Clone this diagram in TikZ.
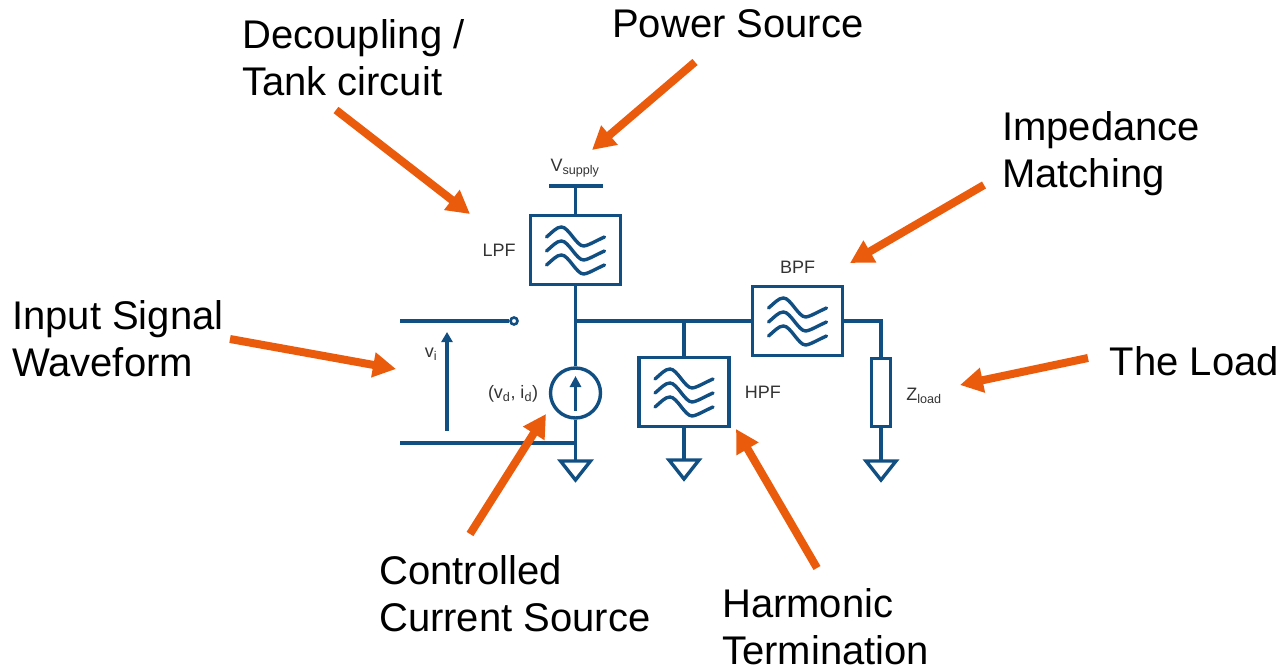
\documentclass[tikz,border=0pt]{standalone}
\usepackage{fontspec}
\setmainfont{Liberation Sans}
\usepackage{tikz}
\usetikzlibrary{positioning}
\usetikzlibrary{calc}
\usetikzlibrary{arrows.meta}
\definecolor{wireblue}{HTML}{114F82}
\definecolor{callorange}{HTML}{EA5B0C}
\definecolor{smalltext}{HTML}{333333}

\newcommand{\filterwaves}[1]{%
  \foreach \dy in {-14,0,14} {
    \draw[wire,line cap=round] ($(#1)+(-29,1+\dy)$)
      .. controls ($(#1)+(-23,-4+\dy)$) and ($(#1)+(-19,-9+\dy)$) .. ($(#1)+(-14,-9+\dy)$)
      .. controls ($(#1)+(-7,-9+\dy)$) and ($(#1)+(1,10+\dy)$) .. ($(#1)+(8,10+\dy)$)
      .. controls ($(#1)+(12,10+\dy)$) and ($(#1)+(22,4+\dy)$) .. ($(#1)+(29,1+\dy)$);
  }
}
\newcommand{\groundsym}[1]{%
  \draw[wire,line join=miter] ($(#1)+(-15,0)$) -- ($(#1)+(15,0)$) -- ($(#1)+(0,19)$) -- cycle;
}

\begin{document}
\begin{tikzpicture}[
    x=1pt,y=-1pt,
    wire/.style={draw=wireblue,line width=3.4pt},
    filterbox/.style={wire,inner sep=0pt,minimum width=90pt,minimum height=69pt},
    loadbox/.style={wire,inner sep=0pt,minimum width=19pt,minimum height=68pt},
    srccircle/.style={wire,circle,inner sep=0pt,minimum size=50pt},
    portdot/.style={wire,circle,inner sep=0pt,line width=2.6pt,minimum size=7pt,fill=white},
    smalllabel/.style={text=smalltext,inner sep=0pt,font=\fontsize{18}{20}\selectfont},
    callout/.style={inner sep=0pt,align=left,font=\fontsize{40}{47}\selectfont},
    pointer/.style={draw=callorange,line width=8pt,-{Triangle[width=24pt,length=23pt]}}
    ]
    \useasboundingbox (0,0) rectangle (1284,668);

    \node[filterbox] (lpf) at (575.5,250) {};
    \node[filterbox] (hpf) at (684,392) {};
    \node[filterbox] (bpf) at (797.5,321) {};
    \node[loadbox] (zload) at (881,392.5) {};
    \node[srccircle] (src) at (575.5,393) {};
    \node[portdot] (port) at (514,321) {};

    \coordinate (vbar) at (575.5,186);
    \coordinate (vleft) at (549,186);
    \coordinate (vright) at (603,186);
    \coordinate (tee) at (575.5,321);
    \coordinate (teehpf) at (684,321);
    \coordinate (corner) at (881,321);
    \coordinate (intop) at (400,321);
    \coordinate (inbot) at (400,443);
    \coordinate (botjoin) at (575.5,443);
    \coordinate (gndsrc) at (575.5,461);
    \coordinate (gndhpf) at (684,460);
    \coordinate (gndload) at (881,461);
    \coordinate (vitail) at (447,431);
    \coordinate (vitip) at (447,332);

    \node[smalllabel] (vsupply) at (575,168) {V\textsubscript{supply}};
    \node[smalllabel] (lpflabel) [left=13pt of lpf] {LPF};
    \node[smalllabel] (bpflabel) [above=11pt of bpf] {BPF};
    \node[smalllabel] (hpflabel) [right=14pt of hpf] {HPF};
    \node[smalllabel] (zlabel) at (924,396) {Z\textsubscript{load}};
    \node[smalllabel] (vilabel) at (431,354) {v\textsubscript{i}};
    \node[smalllabel] (srclabel) at (513,394) {(v\textsubscript{d}, i\textsubscript{d})};

    \draw[wire] (vleft) -- (vright);
    \draw[wire] (vbar) -- (lpf.north);
    \draw[wire] (lpf.south) -- (src.north);
    \draw[wire] (tee) -- (bpf.west);
    \draw[wire] (teehpf) -- (hpf.north);
    \draw[wire] (bpf.east) -- (corner) -- (zload.north);
    \draw[wire] (intop) -- (port.west);
    \draw[wire] (inbot) -- (botjoin);
    \draw[wire] (src.south) -- (gndsrc);
    \draw[wire] (hpf.south) -- (gndhpf);
    \draw[wire] (zload.south) -- (gndload);
    \draw[wire,-{Triangle[width=11pt,length=10pt]}] (vitail) -- (vitip);
    \draw[wire,-{Triangle[width=11pt,length=11pt]}] ($(src)+(0,18)$) -- ($(src)+(0,-17)$);

    \filterwaves{lpf}
    \filterwaves{hpf}
    \filterwaves{bpf}
    \groundsym{gndsrc}
    \groundsym{gndhpf}
    \groundsym{gndload}

    \node[callout,anchor=west] (decoupling) at (242,58) {Decoupling /\\Tank circuit};
    \node[callout,anchor=west] (power) at (612,24) {Power Source};
    \node[callout,anchor=west] (impedance) at (1002,154) {Impedance\\Matching};
    \node[callout,anchor=west] (input) at (12,339) {Input Signal\\Waveform};
    \node[callout,anchor=east] (theload) at (1279,361) {The Load};
    \node[callout,anchor=west] (controlled) at (379,594) {Controlled\\Current Source};
    \node[callout,anchor=west] (harmonic) at (722,627) {Harmonic\\Termination};

    \coordinate (powertail) at (695,62);
    \coordinate (powertip) at (592,150);
    \coordinate (decotail) at (336,110);
    \coordinate (decotip) at (470,214);
    \coordinate (imptail) at (984,185);
    \coordinate (imptip) at (850,263);
    \coordinate (inputtail) at (230,339);
    \coordinate (inputtip) at (396,369);
    \coordinate (loadtail) at (1088,358);
    \coordinate (loadtip) at (960,385);
    \coordinate (conttail) at (470,534);
    \coordinate (conttip) at (546,414);
    \coordinate (harmtail) at (817,568);
    \coordinate (harmtip) at (736,429);

    \draw[pointer] (powertail) -- (powertip);
    \draw[pointer] (decotail) -- (decotip);
    \draw[pointer] (imptail) -- (imptip);
    \draw[pointer] (inputtail) -- (inputtip);
    \draw[pointer] (loadtail) -- (loadtip);
    \draw[pointer] (conttail) -- (conttip);
    \draw[pointer] (harmtail) -- (harmtip);
  \end{tikzpicture}
\end{document}
